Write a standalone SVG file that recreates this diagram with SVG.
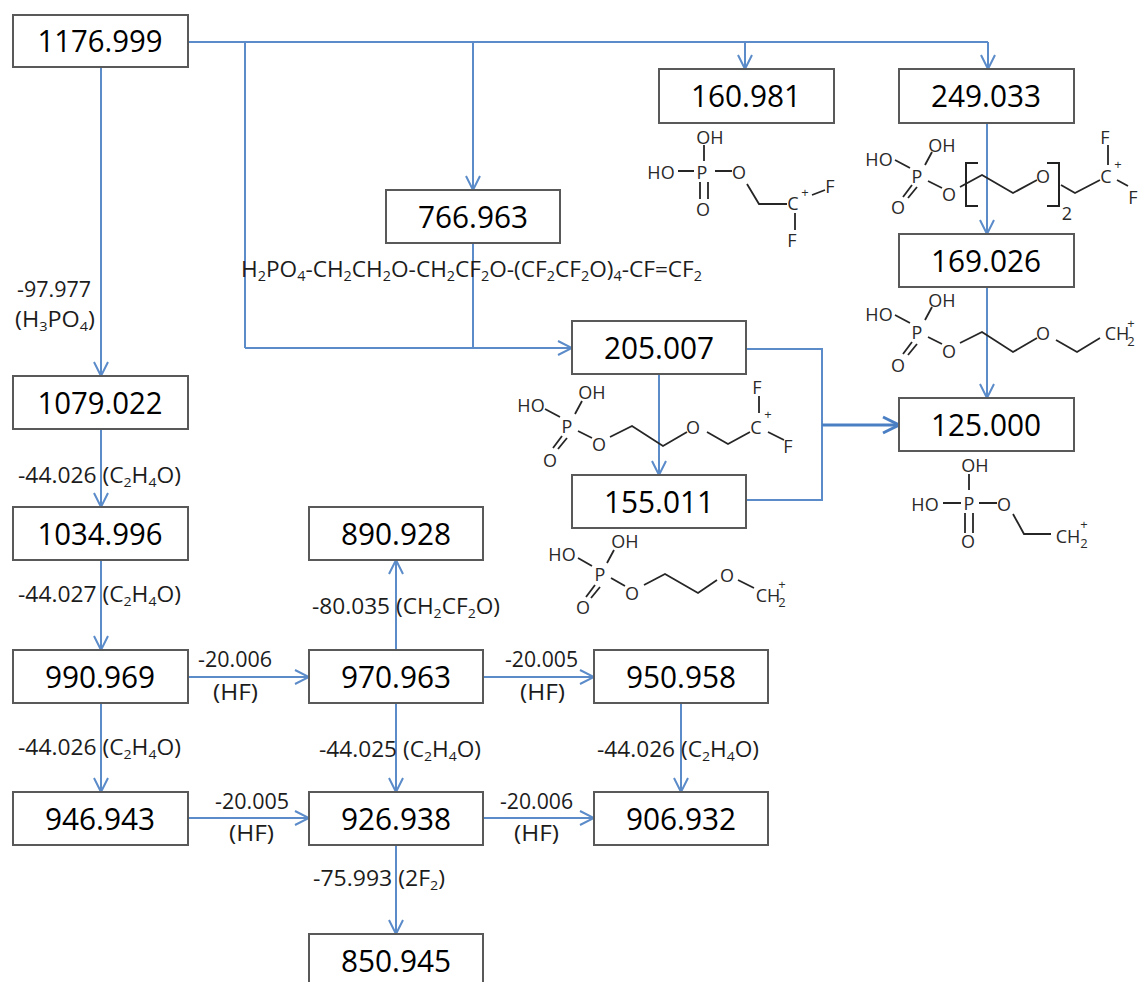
<svg xmlns="http://www.w3.org/2000/svg" width="1140" height="982" viewBox="0 0 1140 982">
<style>
text{font-family:"Open Sans","Liberation Sans",sans-serif;fill:#1c1c1c}
.box{fill:#fff;stroke:#595959;stroke-width:2}
.n{font-size:31px;text-anchor:middle;fill:#000}
.l{font-size:21px}
.f{font-size:22px}
.a{font-size:18px;fill:#2a2a2a;text-anchor:middle}
.s{font-size:13px;fill:#2a2a2a;text-anchor:middle}
.b{fill:none;stroke:#262626;stroke-width:1.8}
.c{fill:none;stroke:#5b8bc9;stroke-width:2}
.ca{fill:none;stroke:#5b8bc9;stroke-width:2;marker-end:url(#ah)}
</style>
<defs>
<marker id="ah" viewBox="0 0 16 16" refX="15" refY="8" markerWidth="16" markerHeight="16" markerUnits="userSpaceOnUse" orient="auto"><path d="M1 1L15 8L1 15" fill="none" stroke="#5b8bc9" stroke-width="2"/></marker>
<marker id="ah2" viewBox="0 0 20 20" refX="18" refY="10" markerWidth="20" markerHeight="20" markerUnits="userSpaceOnUse" orient="auto"><path d="M2 2L18 10L2 18" fill="none" stroke="#4a7fc4" stroke-width="3"/></marker>
</defs>
<g id="connectors">
<path class="c" d="M188 42H988M245 42V348M473 243V348M746 349H822V500H746"/>
<path class="ca" d="M988 42V69"/>
<path class="ca" d="M745 42V69"/>
<path class="ca" d="M473 42V190"/>
<path class="ca" d="M245 348H572"/>
<path class="ca" d="M101 67V376"/>
<path class="ca" d="M101 429V507"/>
<path class="ca" d="M101 560V650"/>
<path class="ca" d="M101 703V792"/>
<path class="ca" d="M188 677H309"/>
<path class="ca" d="M483 677H594"/>
<path class="ca" d="M188 818H309"/>
<path class="ca" d="M483 818H594"/>
<path class="ca" d="M396 650V560"/>
<path class="ca" d="M396 703V792"/>
<path class="ca" d="M681 703V792"/>
<path class="ca" d="M396 845V934"/>
<path class="ca" d="M987 123V234"/>
<path class="ca" d="M987 287V398"/>
<path class="ca" d="M659 374V475"/>
<path d="M822 425H899" fill="none" stroke="#4a7fc4" stroke-width="3" marker-end="url(#ah2)"/>
</g>
<g id="n1176"><rect class="box" x="13" y="15" width="175" height="52"/><text class="n" x="100" y="52" textLength="125" lengthAdjust="spacingAndGlyphs">1176.999</text></g>
<g id="n160"><rect class="box" x="659" y="69" width="175" height="54"/><text class="n" x="746" y="107" textLength="110" lengthAdjust="spacingAndGlyphs">160.981</text></g>
<g id="n249"><rect class="box" x="899" y="69" width="175" height="54"/><text class="n" x="986" y="107" textLength="110" lengthAdjust="spacingAndGlyphs">249.033</text></g>
<g id="n766"><rect class="box" x="386" y="190" width="174" height="53"/><text class="n" x="473" y="228" textLength="110" lengthAdjust="spacingAndGlyphs">766.963</text></g>
<g id="n169"><rect class="box" x="899" y="234" width="175" height="53"/><text class="n" x="986" y="272" textLength="110" lengthAdjust="spacingAndGlyphs">169.026</text></g>
<g id="n205"><rect class="box" x="572" y="321" width="174" height="53"/><text class="n" x="659" y="359" textLength="110" lengthAdjust="spacingAndGlyphs">205.007</text></g>
<g id="n125"><rect class="box" x="899" y="398" width="175" height="53"/><text class="n" x="986" y="436" textLength="110" lengthAdjust="spacingAndGlyphs">125.000</text></g>
<g id="n155"><rect class="box" x="572" y="475" width="174" height="53"/><text class="n" x="659" y="513" textLength="110" lengthAdjust="spacingAndGlyphs">155.011</text></g>
<g id="n1079"><rect class="box" x="13" y="376" width="175" height="53"/><text class="n" x="100" y="414" textLength="125" lengthAdjust="spacingAndGlyphs">1079.022</text></g>
<g id="n1034"><rect class="box" x="13" y="507" width="175" height="53"/><text class="n" x="100" y="545" textLength="125" lengthAdjust="spacingAndGlyphs">1034.996</text></g>
<g id="n990"><rect class="box" x="13" y="650" width="175" height="53"/><text class="n" x="100" y="688" textLength="110" lengthAdjust="spacingAndGlyphs">990.969</text></g>
<g id="n946"><rect class="box" x="13" y="792" width="175" height="53"/><text class="n" x="100" y="830" textLength="110" lengthAdjust="spacingAndGlyphs">946.943</text></g>
<g id="n890"><rect class="box" x="309" y="507" width="174" height="53"/><text class="n" x="396" y="545" textLength="110" lengthAdjust="spacingAndGlyphs">890.928</text></g>
<g id="n970"><rect class="box" x="309" y="650" width="174" height="53"/><text class="n" x="396" y="688" textLength="110" lengthAdjust="spacingAndGlyphs">970.963</text></g>
<g id="n926"><rect class="box" x="309" y="792" width="174" height="53"/><text class="n" x="396" y="830" textLength="110" lengthAdjust="spacingAndGlyphs">926.938</text></g>
<g id="n850"><rect class="box" x="309" y="934" width="174" height="60"/><text class="n" x="396" y="972" textLength="110" lengthAdjust="spacingAndGlyphs">850.945</text></g>
<g id="n950"><rect class="box" x="594" y="650" width="174" height="53"/><text class="n" x="681" y="688" textLength="110" lengthAdjust="spacingAndGlyphs">950.958</text></g>
<g id="n906"><rect class="box" x="594" y="792" width="174" height="53"/><text class="n" x="681" y="830" textLength="110" lengthAdjust="spacingAndGlyphs">906.932</text></g>
<g id="labels">
<text class="l" x="17" y="297" textLength="74" lengthAdjust="spacingAndGlyphs">-97.977</text>
<text class="l" x="15" y="327" textLength="80" lengthAdjust="spacingAndGlyphs">(H<tspan font-size="13" dy="4">3</tspan><tspan dy="-4">PO</tspan><tspan font-size="13" dy="4">4</tspan><tspan dy="-4">)</tspan></text>
<text class="l" x="18" y="483" textLength="163" lengthAdjust="spacingAndGlyphs">-44.026 (C<tspan font-size="13" dy="4">2</tspan><tspan dy="-4">H</tspan><tspan font-size="13" dy="4">4</tspan><tspan dy="-4">O)</tspan></text>
<text class="l" x="18" y="602" textLength="163" lengthAdjust="spacingAndGlyphs">-44.027 (C<tspan font-size="13" dy="4">2</tspan><tspan dy="-4">H</tspan><tspan font-size="13" dy="4">4</tspan><tspan dy="-4">O)</tspan></text>
<text class="l" x="18" y="755" textLength="163" lengthAdjust="spacingAndGlyphs">-44.026 (C<tspan font-size="13" dy="4">2</tspan><tspan dy="-4">H</tspan><tspan font-size="13" dy="4">4</tspan><tspan dy="-4">O)</tspan></text>
<text class="l" x="198" y="667" textLength="74" lengthAdjust="spacingAndGlyphs">-20.006</text>
<text class="l" x="213" y="700" textLength="45" lengthAdjust="spacingAndGlyphs">(HF)</text>
<text class="l" x="312" y="614" textLength="188" lengthAdjust="spacingAndGlyphs">-80.035 (CH<tspan font-size="13" dy="4">2</tspan><tspan dy="-4">CF</tspan><tspan font-size="13" dy="4">2</tspan><tspan dy="-4">O)</tspan></text>
<text class="l" x="505" y="667" textLength="73" lengthAdjust="spacingAndGlyphs">-20.005</text>
<text class="l" x="520" y="700" textLength="45" lengthAdjust="spacingAndGlyphs">(HF)</text>
<text class="l" x="319" y="757" textLength="162" lengthAdjust="spacingAndGlyphs">-44.025 (C<tspan font-size="13" dy="4">2</tspan><tspan dy="-4">H</tspan><tspan font-size="13" dy="4">4</tspan><tspan dy="-4">O)</tspan></text>
<text class="l" x="597" y="757" textLength="162" lengthAdjust="spacingAndGlyphs">-44.026 (C<tspan font-size="13" dy="4">2</tspan><tspan dy="-4">H</tspan><tspan font-size="13" dy="4">4</tspan><tspan dy="-4">O)</tspan></text>
<text class="l" x="215" y="809" textLength="74" lengthAdjust="spacingAndGlyphs">-20.005</text>
<text class="l" x="229" y="841" textLength="45" lengthAdjust="spacingAndGlyphs">(HF)</text>
<text class="l" x="500" y="809" textLength="73" lengthAdjust="spacingAndGlyphs">-20.006</text>
<text class="l" x="514" y="841" textLength="45" lengthAdjust="spacingAndGlyphs">(HF)</text>
<text class="l" x="313" y="886" textLength="132" lengthAdjust="spacingAndGlyphs">-75.993 (2F<tspan font-size="13" dy="4">2</tspan><tspan dy="-4">)</tspan></text>
<text class="f" x="241" y="277" textLength="461" lengthAdjust="spacingAndGlyphs">H<tspan font-size="14" dy="4">2</tspan><tspan dy="-4">PO</tspan><tspan font-size="14" dy="4">4</tspan><tspan dy="-4">-CH</tspan><tspan font-size="14" dy="4">2</tspan><tspan dy="-4">CH</tspan><tspan font-size="14" dy="4">2</tspan><tspan dy="-4">O-CH</tspan><tspan font-size="14" dy="4">2</tspan><tspan dy="-4">CF</tspan><tspan font-size="14" dy="4">2</tspan><tspan dy="-4">O-(CF</tspan><tspan font-size="14" dy="4">2</tspan><tspan dy="-4">CF</tspan><tspan font-size="14" dy="4">2</tspan><tspan dy="-4">O)</tspan><tspan font-size="14" dy="4">4</tspan><tspan dy="-4">-CF=CF</tspan><tspan font-size="14" dy="4">2</tspan></text>
</g>
<g id="struct160">
<path class="b" d="M704 145V161M678 171H694M715 171H732M700 182V199M708 182V199M747 184L759 204H787M812 195L825 190M795 213V230"/>
<text class="a" x="710" y="144">OH</text><text class="a" x="661" y="179">HO</text><text class="a" x="702" y="179">P</text><text class="a" x="739" y="179">O</text><text class="a" x="703" y="216">O</text><text class="a" x="793" y="210">C</text><text class="s" x="805" y="197">+</text><text class="a" x="830" y="193">F</text><text class="a" x="792" y="247">F</text>
</g>
<g id="struct249">
<path class="b" d="M895 160L910 168M925 165L932 152M928 181L942 188M903 197L912 185M908 198L917 187M960 187L982 175L1013 193L1037 180M1061 185L1075 193L1100 180M1108 145V165M1117 180L1128 186"/>
<path d="M978 163H966V206H978M1047 163H1059V206H1047" fill="none" stroke="#222" stroke-width="2"/>
<text class="a" x="879" y="166">HO</text><text class="a" x="942" y="152">OH</text><text class="a" x="917" y="183">P</text><text class="a" x="949" y="201">O</text><text class="a" x="898" y="214">O</text><text class="a" x="1043" y="183">O</text><text class="a" x="1067" y="220" font-size="22">2</text><text class="a" x="1106" y="183">C</text><text class="s" x="1118" y="169">+</text><text class="a" x="1105" y="144">F</text><text class="a" x="1133" y="204">F</text>
</g>
<g id="struct169">
<path class="b" d="M895 315L910 323M925 320L932 307M928 337L942 344M903 354L912 342M908 355L917 344M960 343L982 332L1013 352L1037 338M1056 340L1077 352L1100 338"/>
<text class="a" x="879" y="321">HO</text><text class="a" x="942" y="307">OH</text><text class="a" x="917" y="339">P</text><text class="a" x="949" y="358">O</text><text class="a" x="898" y="372">O</text><text class="a" x="1043" y="340">O</text><text class="a" x="1117" y="340">CH</text><text class="s" x="1131" y="328">+</text><text class="s" x="1131" y="346">2</text>
</g>
<g id="struct205">
<path class="b" d="M545 409L560 417M575 414L582 401M578 431L592 438M553 448L562 436M558 449L567 438M610 437L632 426L663 446L687 432M707 432L728 444L750 432M759 396V413M768 432L784 440"/>
<text class="a" x="531" y="412">HO</text><text class="a" x="592" y="399">OH</text><text class="a" x="567" y="433">P</text><text class="a" x="599" y="451">O</text><text class="a" x="550" y="467">O</text><text class="a" x="693" y="434">O</text><text class="a" x="756" y="434">C</text><text class="s" x="768" y="419">+</text><text class="a" x="757" y="394">F</text><text class="a" x="788" y="453">F</text>
</g>
<g id="struct155">
<path class="b" d="M578 558L592 566M607 563L614 550M611 578L625 586M586 597L595 585M591 598L600 587M644 585L665 574L698 593L717 580M738 580L754 588"/>
<text class="a" x="562" y="561">HO</text><text class="a" x="625" y="548">OH</text><text class="a" x="600" y="581">P</text><text class="a" x="632" y="600">O</text><text class="a" x="583" y="614">O</text><text class="a" x="727" y="582">O</text><text class="a" x="768" y="602">CH</text><text class="s" x="782" y="589">+</text><text class="s" x="782" y="607">2</text>
</g>
<g id="struct125">
<path class="b" d="M969 474V490M943 503H961M979 503H997M965 513V533M973 513V533M1013 514L1024 534H1051"/>
<text class="a" x="975" y="472">OH</text><text class="a" x="925" y="511">HO</text><text class="a" x="969" y="510">P</text><text class="a" x="1004" y="511">O</text><text class="a" x="968" y="548">O</text><text class="a" x="1068" y="543">CH</text><text class="s" x="1084" y="529">+</text><text class="s" x="1084" y="548">2</text>
</g>
</svg>
